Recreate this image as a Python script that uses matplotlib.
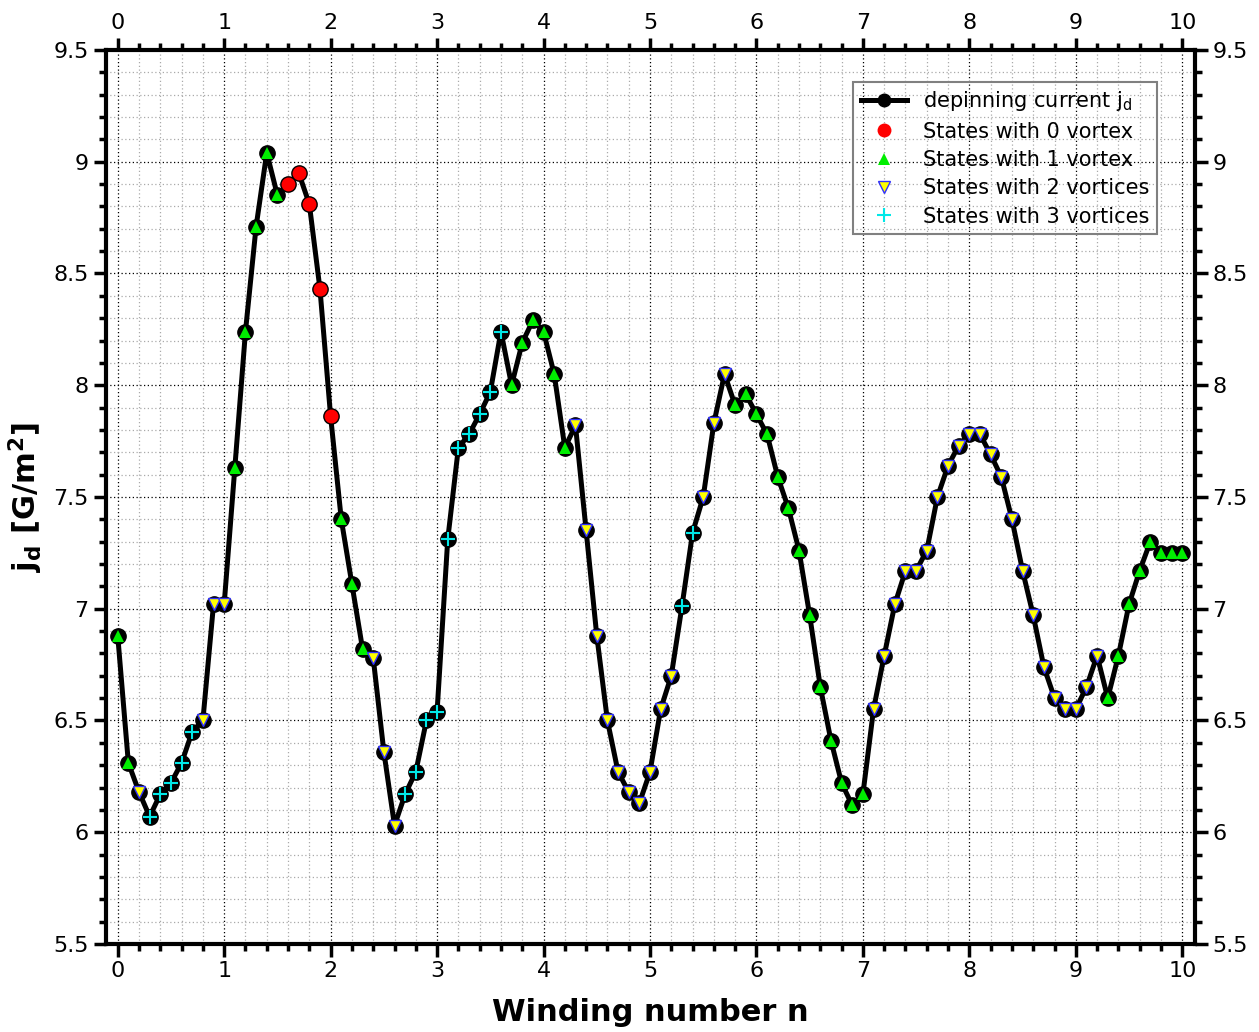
import matplotlib
matplotlib.use('Agg')
import matplotlib.pyplot as plt
from matplotlib.ticker import MultipleLocator, FormatStrFormatter
from matplotlib.lines import Line2D

plt.rcParams['mathtext.fontset'] = 'dejavusans'

# Winding number n
n = [0.0, 0.1, 0.2, 0.3, 0.4, 0.5, 0.6, 0.7, 0.8, 0.9,
     1.0, 1.1, 1.2, 1.3, 1.4, 1.5, 1.6, 1.7, 1.8, 1.9,
     2.0, 2.1, 2.2, 2.3, 2.4, 2.5, 2.6, 2.7, 2.8, 2.9,
     3.0, 3.1, 3.2, 3.3, 3.4, 3.5, 3.6, 3.7, 3.8, 3.9,
     4.0, 4.1, 4.2, 4.3, 4.4, 4.5, 4.6, 4.7, 4.8, 4.9,
     5.0, 5.1, 5.2, 5.3, 5.4, 5.5, 5.6, 5.7, 5.8, 5.9,
     6.0, 6.1, 6.2, 6.3, 6.4, 6.5, 6.6, 6.7, 6.8, 6.9,
     7.0, 7.1, 7.2, 7.3, 7.4, 7.5, 7.6, 7.7, 7.8, 7.9,
     8.0, 8.1, 8.2, 8.3, 8.4, 8.5, 8.6, 8.7, 8.8, 8.9,
     9.0, 9.1, 9.2, 9.3, 9.4, 9.5, 9.6, 9.7, 9.8, 9.9,
     10.0]

# depinning current j_d
jd = [6.88, 6.31, 6.18, 6.07, 6.17, 6.22, 6.31, 6.45, 6.50, 7.02,
      7.02, 7.63, 8.24, 8.71, 9.04, 8.85, 8.90, 8.95, 8.81, 8.43,
      7.86, 7.40, 7.11, 6.82, 6.78, 6.36, 6.03, 6.17, 6.27, 6.50,
      6.54, 7.31, 7.72, 7.78, 7.87, 7.97, 8.24, 8.00, 8.19, 8.29,
      8.24, 8.05, 7.72, 7.82, 7.35, 6.88, 6.50, 6.27, 6.18, 6.13,
      6.27, 6.55, 6.70, 7.01, 7.34, 7.50, 7.83, 8.05, 7.91, 7.96,
      7.87, 7.78, 7.59, 7.45, 7.26, 6.97, 6.65, 6.41, 6.22, 6.12,
      6.17, 6.55, 6.79, 7.02, 7.17, 7.17, 7.26, 7.50, 7.64, 7.73,
      7.78, 7.78, 7.69, 7.59, 7.40, 7.17, 6.97, 6.74, 6.60, 6.55,
      6.55, 6.65, 6.79, 6.60, 6.79, 7.02, 7.17, 7.30, 7.25, 7.25,
      7.25]

# number of vortices of each state
vortices = [1, 1, 2, 3, 3, 3, 3, 3, 2, 2,
            2, 1, 1, 1, 1, 1, 0, 0, 0, 0,
            0, 1, 1, 1, 2, 2, 2, 3, 3, 3,
            3, 3, 3, 3, 3, 3, 3, 1, 1, 1,
            1, 1, 1, 2, 2, 2, 2, 2, 2, 2,
            2, 2, 2, 3, 3, 2, 2, 2, 1, 1,
            1, 1, 1, 1, 1, 1, 1, 1, 1, 1,
            1, 2, 2, 2, 2, 2, 2, 2, 2, 2,
            2, 2, 2, 2, 2, 2, 2, 2, 2, 2,
            2, 2, 2, 1, 1, 1, 1, 1, 1, 1,
            1]

labels = ['States with 0 vortex', 'States with 1 vortex',
          'States with 2 vortices', 'States with 3 vortices']

styles = [
    dict(marker='o', color='#ff0000', markersize=10, markeredgewidth=0),
    dict(marker='^', color='#00ee00', markersize=9, markeredgewidth=0),
    dict(marker='v', markerfacecolor='#ffff00', markeredgecolor='#3030ff',
         color='#ffff00', markersize=9, markeredgewidth=1),
    dict(marker='+', color='#00e8e8', markersize=10, markeredgewidth=1.5),
]

fig = plt.figure(figsize=(12.59, 10.32), dpi=100)
ax = fig.add_axes([0.0842, 0.0853, 0.8650, 0.8663])

ax.plot(n, jd, color='black', linewidth=3.6, marker='o', markersize=11,
        zorder=3)

for k in range(4):
    xs = [n[i] for i in range(len(n)) if vortices[i] == k]
    ys = [jd[i] for i in range(len(n)) if vortices[i] == k]
    ax.plot(xs, ys, linestyle='none', zorder=4, **styles[k])

ax.set_xlim(-0.11, 10.12)
ax.set_ylim(5.5, 9.5)

ax.xaxis.set_major_locator(MultipleLocator(1))
ax.xaxis.set_minor_locator(MultipleLocator(0.2))
ax.yaxis.set_major_locator(MultipleLocator(0.5))
ax.yaxis.set_minor_locator(MultipleLocator(0.1))
ax.yaxis.set_major_formatter(FormatStrFormatter('%g'))

ax.tick_params(which='both', direction='out', top=True, right=True,
               labeltop=True, labelright=True, labelsize=16, width=2.5)
ax.tick_params(which='major', length=9)
ax.tick_params(which='minor', length=5)
for s in ax.spines.values():
    s.set_linewidth(3)

ax.grid(which='major', color='black', linestyle=(0, (1, 2)), linewidth=0.9)
ax.grid(which='minor', color='#aaaaaa', linestyle=(0, (1, 2)), linewidth=0.9)
ax.set_axisbelow(True)

ax.set_xlabel('Winding number n', fontsize=22, fontweight='bold', labelpad=12)
ax.set_ylabel(r'$\mathbf{j_d}$ $\mathbf{[G/m^2]}$', fontsize=22,
              fontweight='bold', labelpad=6)

handles = [Line2D([], [], color='black', linewidth=3.6, marker='o',
                  markersize=9)]
for k in range(4):
    handles.append(Line2D([], [], linestyle='none', **styles[k]))
leg = ax.legend(handles, [r'depinning current j$_\mathrm{d}$'] + labels,
                loc='upper right', bbox_to_anchor=(0.965, 0.964),
                borderaxespad=0, fontsize=15, fancybox=False, framealpha=1,
                edgecolor='#808080', handlelength=2.2, labelspacing=0.4,
                borderpad=0.35)
leg.get_frame().set_facecolor('none')
leg.get_frame().set_linewidth(1.5)

plt.savefig('out.png', dpi=100)
